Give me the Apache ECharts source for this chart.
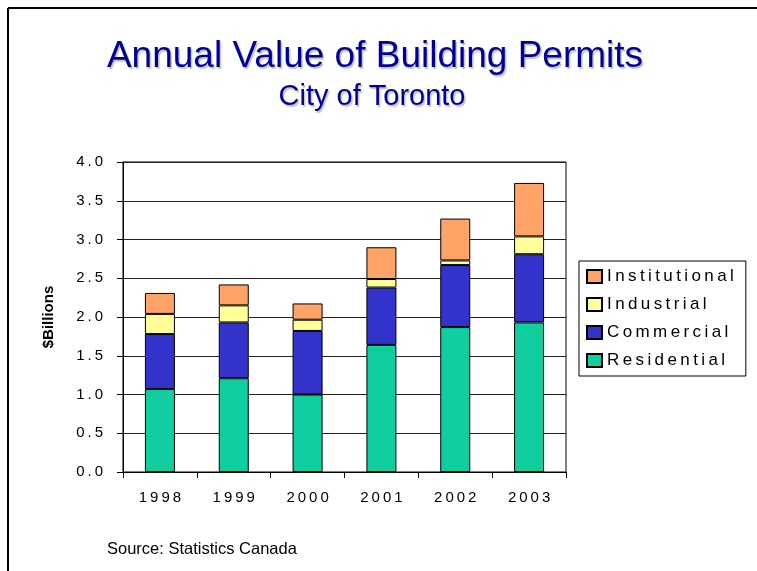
<!DOCTYPE html>
<html>
<head>
<meta charset="utf-8">
<script src="https://cdn.jsdelivr.net/npm/echarts@6/dist/echarts.min.js"></script>
<style>
  html, body { margin: 0; padding: 0; background: #fff; }
  #main { width: 757px; height: 571px; }
</style>
</head>
<body>
<div id="main"></div>
<script>
// values in $ billions
var years = ['1998', '1999', '2000', '2001', '2002', '2003'];
var residential = [1.07, 1.21, 1.00, 1.64, 1.87, 1.93];
var commercial = [0.71, 0.72, 0.82, 0.74, 0.80, 0.88];
var industrial = [0.26, 0.22, 0.145, 0.11, 0.06, 0.23];
var institutional = [0.27, 0.27, 0.21, 0.41, 0.54, 0.69];
var legendOrder = ['Institutional', 'Industrial', 'Commercial', 'Residential'];

// old powerpoint look: spread the letters out a bit
function spaced(s) {
    return String(s).split('').join('\u2009');
}

function barSeries(name, data, color) {
    return {
        name: name,
        type: 'bar',
        stack: 'total',
        barWidth: 30,
        data: data,
        itemStyle: { color: color, borderColor: '#000', borderWidth: 1 }
    };
}

var titleColor = '#000099';

var option = {
    backgroundColor: '#fff',
    animation: false,
    textStyle: { fontFamily: 'Liberation Sans, Arial, sans-serif' },
    grid: {
        left: 123, right: 191, top: 162, bottom: 99,
        show: true, borderColor: '#000', borderWidth: 1
    },
    legend: {
        data: legendOrder,
        orient: 'vertical',
        left: 579,
        top: 261,
        padding: [7, 12, 7, 7],
        icon: 'rect',
        itemWidth: 15,
        itemHeight: 13,
        itemGap: 11,
        borderColor: '#000',
        borderWidth: 1,
        textStyle: { fontSize: 17, color: '#000' },
        formatter: function (name) { return spaced(name); }
    },
    xAxis: {
        type: 'category',
        data: years,
        axisLine: { lineStyle: { color: '#000' } },
        axisTick: { show: true, length: 6, lineStyle: { color: '#000' } },
        axisLabel: {
            color: '#000', fontSize: 15, margin: 18,
            formatter: function (v) { return spaced(v); }
        }
    },
    yAxis: {
        type: 'value',
        min: 0, max: 4, interval: 0.5,
        name: '$Billions',
        nameLocation: 'middle',
        nameGap: 67,
        nameTextStyle: { fontSize: 15, fontWeight: 'bold', color: '#000' },
        axisLine: { show: true, lineStyle: { color: '#000' } },
        axisTick: { show: true, length: 6, lineStyle: { color: '#000' } },
        axisLabel: {
            color: '#000', fontSize: 15, margin: 20,
            formatter: function (v) { return spaced(v.toFixed(1)); }
        },
        splitLine: { lineStyle: { color: '#222', width: 1 } }
    },
    series: [
        barSeries('Residential', residential, '#11CEA0'),
        barSeries('Commercial', commercial, '#3333CC'),
        barSeries('Industrial', industrial, '#FFFF99'),
        barSeries('Institutional', institutional, '#FFA366')
    ],
    graphic: [
        { type: 'line', shape: { x1: 8, y1: 8, x2: 757, y2: 8 }, style: { stroke: '#000', lineWidth: 2 } },
        { type: 'line', shape: { x1: 8, y1: 8, x2: 8, y2: 571 }, style: { stroke: '#000', lineWidth: 2 } },
        {
            type: 'text', x: 375, y: 57,
            style: {
                text: 'Annual Value of Building Permits', fill: titleColor,
                font: '37px "Liberation Sans", Arial, sans-serif',
                textAlign: 'center', textVerticalAlign: 'middle',
                textShadowColor: '#c4c4c4', textShadowBlur: 1,
                textShadowOffsetX: 1.5, textShadowOffsetY: 1.5
            }
        },
        {
            type: 'text', x: 372, y: 97,
            style: {
                text: 'City of Toronto', fill: titleColor,
                font: '29px "Liberation Sans", Arial, sans-serif',
                textAlign: 'center', textVerticalAlign: 'middle',
                textShadowColor: '#c4c4c4', textShadowBlur: 1,
                textShadowOffsetX: 1.5, textShadowOffsetY: 1.5
            }
        },
        {
            type: 'text', x: 107, y: 549,
            style: {
                text: 'Source: Statistics Canada', fill: '#000',
                font: '16.5px "Liberation Sans", Arial, sans-serif',
                textAlign: 'left', textVerticalAlign: 'middle'
            }
        }
    ]
};

var myChart = echarts.init(document.getElementById('main'));
myChart.setOption(option);
</script>
</body>
</html>
